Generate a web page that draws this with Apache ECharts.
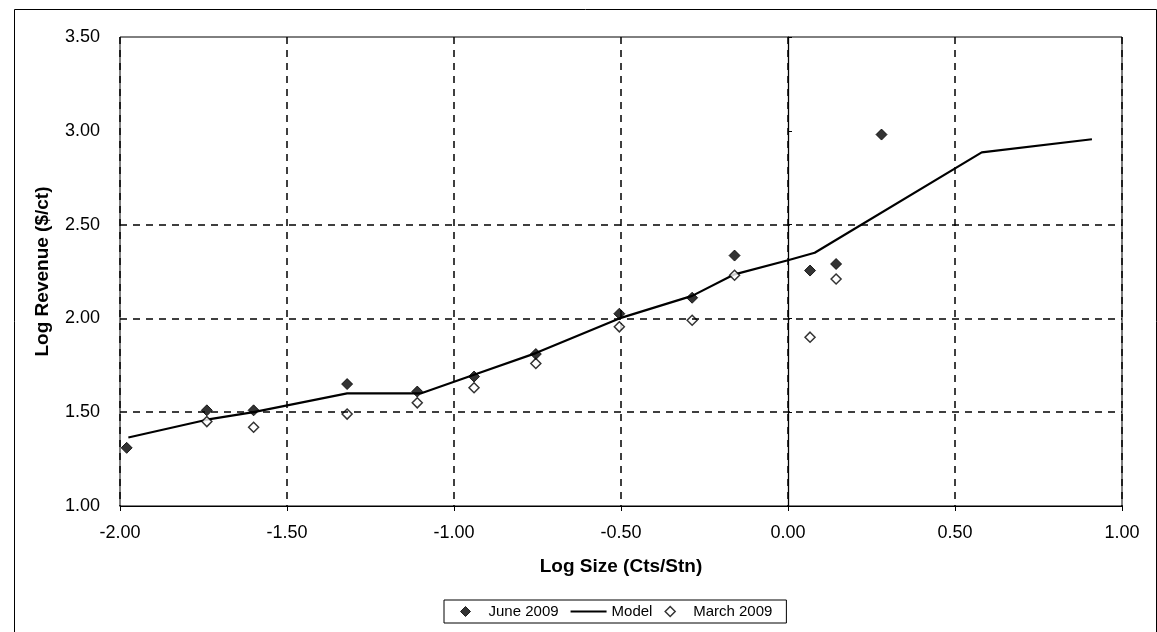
<!DOCTYPE html>
<html>
<head>
<meta charset="utf-8">
<script src="https://cdn.jsdelivr.net/npm/echarts@6/dist/echarts.min.js"></script>
<style>
html,body{margin:0;padding:0;background:#fff;}
#chart{width:1157px;height:632px;}
</style>
</head>
<body>
<div id="chart"></div>
<script>
// ---- data ----
const juneX  = [-1.98, -1.74, -1.60, -1.32, -1.11, -0.94, -0.755, -0.505, -0.287, -0.16, 0.066, 0.144, 0.28];
const juneY  = [1.31, 1.51, 1.51, 1.65, 1.61, 1.69, 1.81, 2.025, 2.11, 2.335, 2.255, 2.29, 2.98];
const marchX = [-1.74, -1.60, -1.32, -1.11, -0.94, -0.755, -0.505, -0.287, -0.16, 0.066, 0.144];
const marchY = [1.45, 1.42, 1.49, 1.55, 1.63, 1.76, 1.955, 1.99, 2.23, 1.90, 2.21];
const modelX = [-1.975, -1.74, -1.60, -1.32, -1.10, -0.94, -0.755, -0.505, -0.287, -0.16, 0.00, 0.08, 0.58, 0.91];
const modelY = [1.365, 1.46, 1.50, 1.60, 1.60, 1.70, 1.815, 2.00, 2.12, 2.235, 2.31, 2.35, 2.885, 2.955];
const hGridValues = [1.5, 2.0, 2.5];
const seriesNames = ['June 2009', 'Model', 'March 2009'];
const xTitle = 'Log Size (Cts/Stn)';
const yTitle = 'Log Revenue ($/ct)';

const zip = (xs, ys) => xs.map((x, i) => [x, ys[i]]);
const FONT = '"Liberation Sans", Arial, sans-serif';
const DIAMOND = 'path://M0,-1L1,0L0,1L-1,0Z';
const LINEICON = 'path://M0,0L40,0L40,2L0,2Z';

const chart = echarts.init(document.getElementById('chart'), null, {renderer: 'canvas'});
chart.setOption({
  backgroundColor: '#fff',
  animation: false,
  graphic: [{
    type: 'rect', left: 12, top: 7, silent: true, z: -10,
    shape: {width: 1142, height: 640},
    style: {fill: 'none', stroke: '#000', lineWidth: 1}
  }],
  grid: {left: 120, right: 35, top: 37, bottom: 126, show: true, borderColor: '#000', borderWidth: 1, backgroundColor: 'transparent'},
  legend: {
    left: 444, top: 600,
    symbolKeepAspect: true,
    data: [
      {name: seriesNames[0], icon: DIAMOND, itemStyle: {color: '#000', borderColor: '#000', borderWidth: 1}},
      {name: seriesNames[1], icon: LINEICON, itemStyle: {color: '#000', borderWidth: 0}},
      {name: seriesNames[2], icon: DIAMOND, itemStyle: {color: '#fff', borderColor: '#000', borderWidth: 1.5}}
    ],
    itemWidth: 36, itemHeight: 10, itemGap: 12,
    padding: [4, 14, 4, 16],
    borderColor: '#000', borderWidth: 1,
    textStyle: {fontFamily: FONT, fontSize: 15, color: '#000'}
  },
  xAxis: {
    type: 'value', min: -2, max: 1, interval: 0.5,
    name: xTitle, nameLocation: 'middle', nameGap: 51,
    nameTextStyle: {fontFamily: FONT, fontSize: 19, fontWeight: 'bold', color: '#000'},
    axisLine: {show: true, lineStyle: {color: '#000', width: 1}},
    axisTick: {show: true, inside: false, length: 5, lineStyle: {color: '#000'}},
    axisLabel: {fontFamily: FONT, fontSize: 18, color: '#000', margin: 18, formatter: v => v.toFixed(2)},
    splitLine: {show: true, lineStyle: {color: '#000', width: 1.5, type: [7, 6]}}
  },
  yAxis: {
    type: 'value', min: 1, max: 3.5, interval: 0.5,
    name: yTitle, nameLocation: 'middle', nameGap: 68, nameRotate: 90,
    nameTextStyle: {fontFamily: FONT, fontSize: 19, fontWeight: 'bold', color: '#000'},
    axisLine: {show: true, lineStyle: {color: '#000', width: 1}},
    axisTick: {show: true, inside: true, length: 4, lineStyle: {color: '#000'}},
    axisLabel: {fontFamily: FONT, fontSize: 18, color: '#000', margin: 20, formatter: v => v.toFixed(2)},
    splitLine: {show: false}
  },
  series: [
    {
      name: seriesNames[0], type: 'scatter', z: 5,
      symbol: 'diamond', symbolSize: 11,
      itemStyle: {color: '#000', borderColor: '#000', borderWidth: 1},
      data: zip(juneX, juneY)
    },
    {
      name: seriesNames[1], type: 'line', z: 3,
      symbol: 'none', smooth: false,
      lineStyle: {color: '#000', width: 2.2},
      itemStyle: {color: '#000'},
      data: zip(modelX, modelY),
      markLine: {
        silent: true, symbol: 'none', label: {show: false},
        data: hGridValues.map(v => ({yAxis: v, lineStyle: {color: '#000', width: 1.5, type: [7, 6]}}))
          .concat([{xAxis: 0, lineStyle: {color: '#000', width: 1.3, type: 'solid'}}])
      }
    },
    {
      name: seriesNames[2], type: 'scatter', z: 4,
      symbol: 'diamond', symbolSize: 10,
      itemStyle: {color: '#fff', borderColor: '#000', borderWidth: 1.5},
      data: zip(marchX, marchY)
    }
  ]
});
</script>
</body>
</html>
